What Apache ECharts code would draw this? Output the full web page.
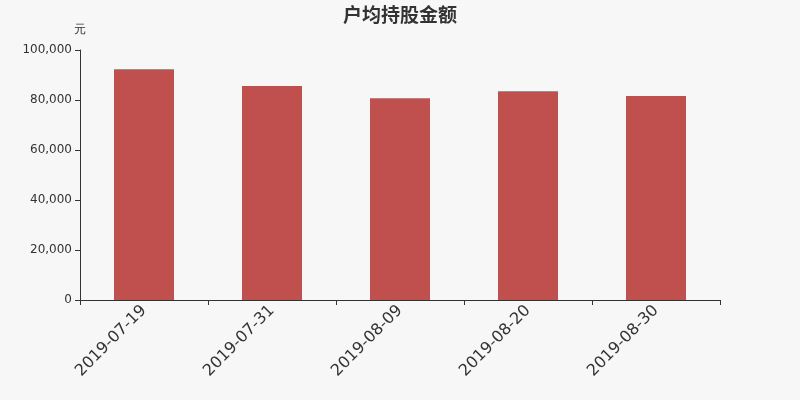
<!DOCTYPE html>
<html><head><meta charset="utf-8">
<script src="https://cdn.jsdelivr.net/npm/echarts@6/dist/echarts.min.js"></script>
<style>html,body{margin:0;padding:0;background:#f7f7f7;}#c{width:800px;height:400px;}</style>
</head><body><div id="c"></div>
<script>
const categories = ['2019-07-19','2019-07-31','2019-08-09','2019-08-20','2019-08-30'];
const values = [92300, 85600, 80700, 83500, 81600];
const chart = echarts.init(document.getElementById('c'));
chart.setOption({
  backgroundColor: '#f7f7f7',
  animation: false,
  title: { text: '户均持股金额', left: 'center', top: 0,
    textStyle: { fontSize: 19, fontWeight: 'bold', color: '#333', fontFamily: 'Noto Sans CJK SC' } },
  grid: { left: 80, right: 80, top: 50, bottom: 100 },
  xAxis: { type: 'category', data: categories,
    axisLine: { lineStyle: { color: '#333' } },
    axisTick: { show: true, length: 5, lineStyle: { color: '#333' } },
    axisLabel: { rotate: 45, fontSize: 16, color: '#333', margin: 8, fontFamily: 'DejaVu Sans' } },
  yAxis: { type: 'value', min: 0, max: 100000, interval: 20000, name: '元',
    nameGap: 14, nameTextStyle: { color: '#333', fontSize: 12, align: 'center' },
    axisLine: { show: true, lineStyle: { color: '#333' } },
    axisTick: { show: true, lineStyle: { color: '#333' } },
    splitLine: { show: false },
    axisLabel: { color: '#333', fontSize: 12, fontFamily: 'DejaVu Sans',
      formatter: v => v.toLocaleString('en-US') } },
  series: [{ type: 'bar', data: values, barWidth: 60, itemStyle: { color: '#c0504d' } }]
});
</script></body></html>
